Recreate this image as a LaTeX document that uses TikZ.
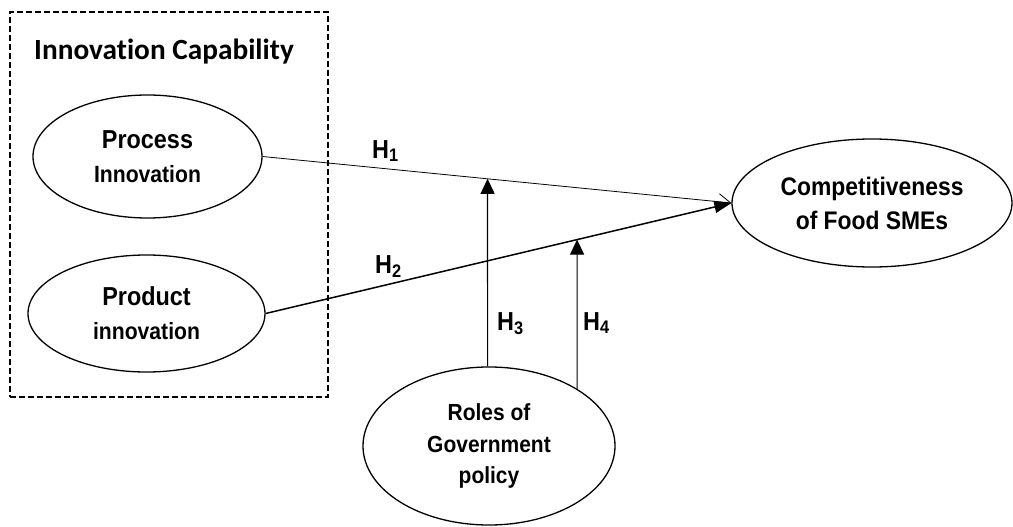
\documentclass[tikz,border=0pt]{standalone}
\usepackage{fontspec}
\setmainfont{Liberation Sans}
\newfontfamily\lblfont{Liberation Sans}[FakeStretch=0.9]
\newfontfamily\titlefont{Carlito}[Ligatures=NoCommon]
\usetikzlibrary{shapes.geometric,arrows.meta}
\newcommand{\bigline}[1]{{\fontsize{26}{34}\selectfont #1}}

\begin{document}
\begin{tikzpicture}[x=1pt,y=-1pt,
  construct/.style={draw, ellipse, line width=1.3pt, inner sep=0pt, align=center,
    font=\lblfont\bfseries\fontsize{23.5}{34}\selectfont},
  hyp/.style={anchor=base west, inner sep=0pt,
    font=\lblfont\bfseries\fontsize{26}{28}\selectfont},
  groupbox/.style={draw, line width=1.3pt, dash pattern=on 6pt off 3pt,
    inner sep=0pt},
  thinpath/.style={line width=0.8pt, -{Straight Barb[length=12pt,width=16pt]}},
  mainpath/.style={line width=1.5pt, -{Triangle[length=17pt,width=12pt]}},
  modpath/.style={line width=1.2pt, -{Triangle[length=15pt,width=14pt]}}
]
\useasboundingbox (0,0) rectangle (1013,527);

% Group box for the innovation capability constructs
\node[groupbox, minimum width=318pt, minimum height=385pt] (capbox) at (169,204.5) {};
\node[anchor=base, inner sep=0pt, font=\titlefont\bfseries\fontsize{29.3}{32}\selectfont]
  (captitle) at (164,60) {Innovation Capability};

% Constructs
\node[construct, minimum width=229pt, minimum height=123pt] (proc) at (147.5,156.5)
  {\bigline{Process}\\Innovation};
\node[construct, minimum width=237pt, minimum height=117pt] (prod) at (146.5,313.5)
  {\bigline{Product}\\innovation};
\node[construct, minimum width=280pt, minimum height=128pt,
  font=\lblfont\bfseries\fontsize{25.4}{34}\selectfont] (comp) at (872,203)
  {Competitiveness\\of Food SMEs};
\node[construct, minimum width=252pt, minimum height=158pt,
  font=\lblfont\bfseries\fontsize{23.3}{31.5}\selectfont] (roles) at (489,446)
  {Roles of\\Government\\policy};

% Direct effects
\draw[thinpath] (proc.east) -- (comp.west);
\draw[mainpath] (prod.east) -- (comp.west);

% Moderating effects
\coordinate (t3) at (intersection cs: first line={(proc.east)--(comp.west)},
  second line={(roles.91)--([yshift=10pt]roles.91)});
\coordinate (t4) at (intersection cs: first line={(prod.east)--(comp.west)},
  second line={(roles.33)--([yshift=10pt]roles.33)});
\draw[modpath] (roles.91) -- (t3);
\draw[modpath] (roles.33) -- (t4);

% Hypothesis labels
\node[hyp] (h1) at (372,158) {H\textsubscript{1}};
\node[hyp] (h2) at (375,273) {H\textsubscript{2}};
\node[hyp] (h3) at (497,330) {H\textsubscript{3}};
\node[hyp] (h4) at (583,330) {H\textsubscript{4}};
\end{tikzpicture}
\end{document}
